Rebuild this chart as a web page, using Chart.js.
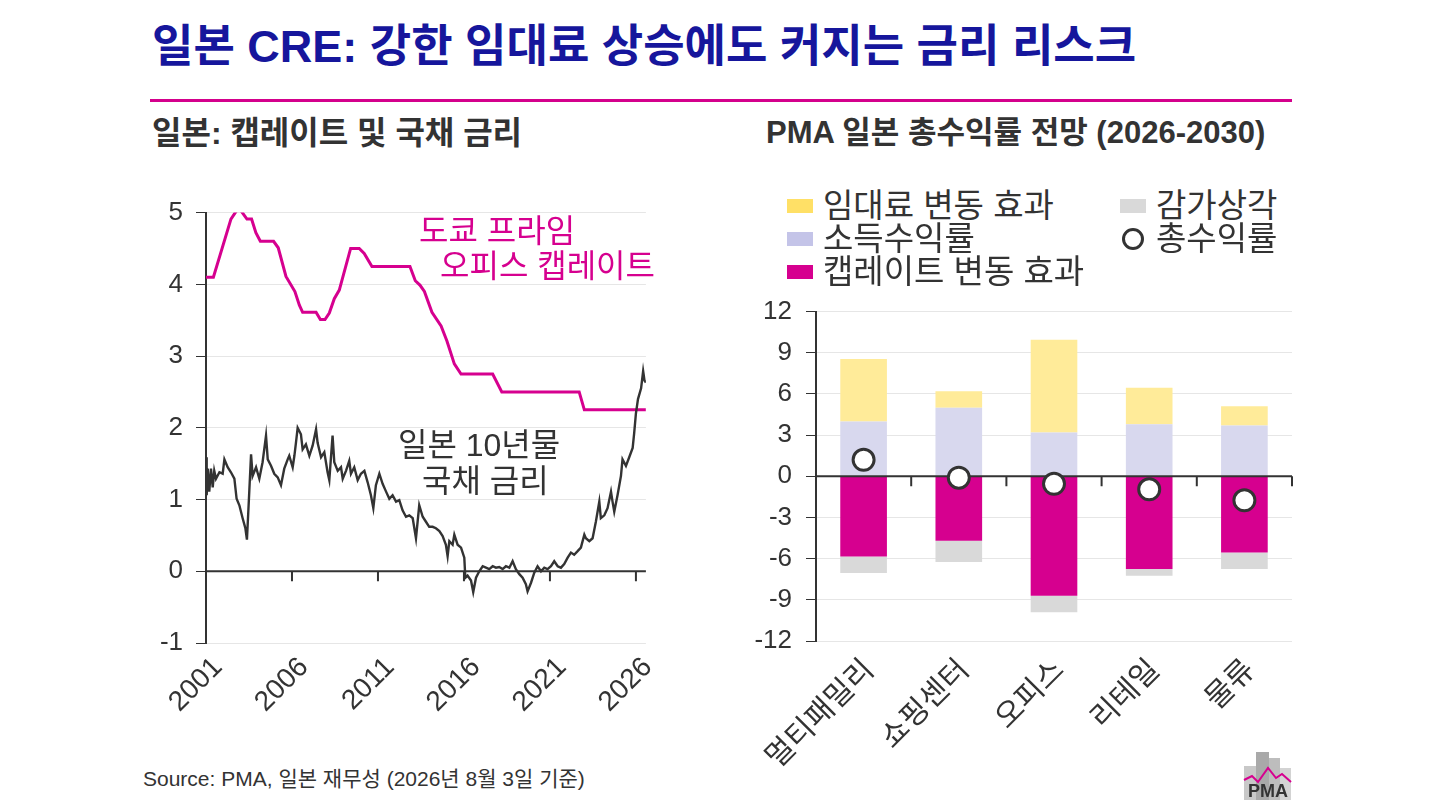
<!DOCTYPE html>
<html><head><meta charset="utf-8">
<script src="https://cdn.jsdelivr.net/npm/chart.js@4.4.1/dist/chart.umd.min.js"></script>
<style>
html,body{margin:0;padding:0;background:#fff;}
body{width:1440px;height:810px;position:relative;overflow:hidden;font-family:"Liberation Sans","Noto Sans CJK KR",sans-serif;color:#333;}
.abs{position:absolute;white-space:nowrap;line-height:1;}
#title{left:152px;top:24px;font-size:45px;font-weight:bold;color:#16169c;}
#rule{left:150px;top:99px;width:1142px;height:3px;background:#d4008c;}
#subL{left:152px;top:117px;font-size:32px;font-weight:bold;color:#333;}
#subR{left:766px;top:117px;font-size:31px;font-weight:bold;color:#333;}
canvas{position:absolute;}
#cL{left:140px;top:184px;}
#cR{left:730px;top:282px;}
.ann{font-size:32px;}
.mag{color:#d6008f;}
.leg{position:absolute;display:flex;align-items:center;font-size:33px;line-height:34px;height:34px;white-space:nowrap;color:#333;}
.sw{width:26px;height:14px;margin-right:10px;}
.circ{width:16px;height:16px;border:3px solid #333;border-radius:50%;margin-right:12px;margin-left:2px;background:#fff;}
#src{left:143px;top:768px;font-size:21px;color:#333;}
#logo{left:1242px;top:750px;width:50px;height:50px;}
</style></head>
<body>
<div id="title" class="abs">일본 CRE: 강한 임대료 상승에도 커지는 금리 리스크</div>
<div id="rule" class="abs"></div>
<div id="subL" class="abs">일본: 캡레이트 및 국채 금리</div>
<div id="subR" class="abs">PMA 일본 총수익률 전망 (2026-2030)</div>

<canvas id="cL" width="520" height="551"></canvas>
<canvas id="cR" width="580" height="518"></canvas>

<div class="abs ann mag" style="left:419px;top:215px;">도쿄 프라임</div>
<div class="abs ann mag" style="left:440px;top:250px;">오피스 캡레이트</div>
<div class="abs ann" style="left:398px;top:429px;">일본 10년물</div>
<div class="abs ann" style="left:422px;top:465px;">국채 금리</div>

<div class="leg" style="left:787px;top:189px;"><div class="sw" style="background:#FFE066"></div>임대료 변동 효과</div>
<div class="leg" style="left:787px;top:222px;"><div class="sw" style="background:#C4C4E8"></div>소득수익률</div>
<div class="leg" style="left:787px;top:255px;"><div class="sw" style="background:#D6008F"></div>캡레이트 변동 효과</div>
<div class="leg" style="left:1120px;top:189px;"><div class="sw" style="background:#D9D9D9"></div>감가상각</div>
<div class="leg" style="left:1120px;top:222px;"><div class="circ"></div>총수익률</div>

<div id="src" class="abs">Source: PMA, 일본 재무성 (2026년 8월 3일 기준)</div>
<svg id="logo" class="abs" viewBox="0 0 50 50">
  <rect x="2" y="16" width="12" height="34" fill="#c8c8c8"/>
  <rect x="14" y="2" width="13" height="48" fill="#a9a9a9"/>
  <rect x="27" y="8" width="11" height="42" fill="#bdbdbd"/>
  <rect x="38" y="18" width="11" height="32" fill="#d3d3d3"/>
  <polyline points="2,30 10,26 16,32 26,18 34,28 40,24 49,32" fill="none" stroke="#d6008f" stroke-width="2"/>
  <text x="26" y="47" text-anchor="middle" font-family="Liberation Sans" font-weight="bold" font-size="18" fill="#333">PMA</text>
</svg>

<script>
// ---------- Left chart data ----------
const yearTicks = [2001, 2006, 2011, 2016, 2021, 2026];
const leftYTicks = [-1, 0, 1, 2, 3, 4, 5];
// Tokyo prime office cap rate (%) : [year, value]
const capRateSeries = [
  [2001.00,4.10],[2001.43,4.10],[2002.45,4.91],[2002.90,5.07],[2003.38,4.91],[2003.65,4.91],
  [2003.90,4.72],[2004.16,4.60],[2004.93,4.60],[2005.20,4.51],[2005.65,4.11],[2006.17,3.90],
  [2006.43,3.71],[2006.62,3.61],[2007.40,3.61],[2007.65,3.51],[2007.92,3.51],[2008.17,3.60],
  [2008.46,3.80],[2008.75,3.92],[2009.41,4.50],[2009.91,4.50],[2010.20,4.43],[2010.65,4.25],
  [2012.86,4.25],[2013.17,4.05],[2013.44,3.99],[2013.70,3.90],[2014.14,3.61],[2014.67,3.42],
  [2015.01,3.21],[2015.44,2.89],[2015.83,2.75],[2017.67,2.75],[2018.20,2.50],[2022.70,2.50],
  [2023.00,2.25],[2026.58,2.25]
];
// Japan 10-year JGB yield (%) : [year, value]
const jgbSeries = [
  [2001.00,1.59],[2001.04,1.06],[2001.10,1.43],[2001.19,1.11],[2001.29,1.43],[2001.39,1.17],
  [2001.48,1.40],[2001.58,1.29],[2001.78,1.38],[2001.97,1.36],[2002.07,1.56],[2002.26,1.45],
  [2002.45,1.38],[2002.65,1.29],[2002.78,1.01],[2002.94,0.92],[2003.13,0.74],[2003.29,0.60],
  [2003.38,0.44],[2003.46,0.83],[2003.52,1.13],[2003.62,1.63],[2003.71,1.33],[2003.91,1.45],
  [2004.10,1.29],[2004.29,1.52],[2004.49,1.89],[2004.59,1.56],[2004.78,1.47],[2004.97,1.36],
  [2005.17,1.31],[2005.36,1.20],[2005.55,1.43],[2005.75,1.56],[2005.84,1.61],[2006.04,1.45],
  [2006.14,1.61],[2006.23,1.79],[2006.33,2.00],[2006.52,1.91],[2006.62,1.70],[2006.81,1.77],
  [2007.01,1.61],[2007.20,1.75],[2007.40,1.98],[2007.49,1.79],[2007.69,1.59],[2007.88,1.66],
  [2008.07,1.38],[2008.17,1.27],[2008.36,1.89],[2008.46,1.52],[2008.66,1.40],[2008.85,1.45],
  [2008.95,1.29],[2009.14,1.40],[2009.33,1.54],[2009.43,1.36],[2009.62,1.45],[2009.82,1.27],
  [2010.01,1.36],[2010.21,1.40],[2010.40,1.24],[2010.59,1.06],[2010.73,0.88],[2010.88,1.20],
  [2011.08,1.36],[2011.27,1.22],[2011.47,1.11],[2011.66,1.01],[2011.85,1.06],[2012.05,0.97],
  [2012.24,0.99],[2012.43,0.85],[2012.63,0.76],[2012.82,0.78],[2013.02,0.74],[2013.21,0.46],
  [2013.40,0.92],[2013.60,0.76],[2013.79,0.69],[2013.98,0.62],[2014.18,0.62],[2014.37,0.60],
  [2014.57,0.56],[2014.76,0.49],[2014.95,0.37],[2015.05,0.21],[2015.15,0.42],[2015.34,0.37],
  [2015.44,0.51],[2015.63,0.37],[2015.83,0.33],[2016.02,0.19],[2016.08,-0.09],[2016.21,-0.06],
  [2016.41,-0.13],[2016.54,-0.29],[2016.70,-0.09],[2016.89,0.00],[2017.09,0.07],[2017.28,0.05],
  [2017.47,0.03],[2017.67,0.07],[2017.86,0.05],[2018.05,0.06],[2018.25,0.03],[2018.44,0.07],
  [2018.64,0.05],[2018.83,0.14],[2019.02,0.03],[2019.22,-0.04],[2019.41,-0.09],[2019.60,-0.18],
  [2019.70,-0.28],[2019.90,-0.16],[2020.09,-0.02],[2020.28,0.07],[2020.48,0.00],[2020.67,0.05],
  [2020.86,0.03],[2021.06,0.07],[2021.25,0.14],[2021.45,0.07],[2021.64,0.05],[2021.83,0.10],
  [2022.03,0.19],[2022.22,0.26],[2022.41,0.23],[2022.61,0.28],[2022.80,0.33],[2023.00,0.51],
  [2023.09,0.46],[2023.29,0.42],[2023.48,0.46],[2023.67,0.69],[2023.87,0.97],[2023.96,0.74],
  [2024.16,0.78],[2024.35,0.88],[2024.55,1.11],[2024.64,0.97],[2024.74,0.83],[2024.93,1.06],
  [2025.13,1.33],[2025.22,1.56],[2025.42,1.47],[2025.61,1.59],[2025.81,1.72],[2025.90,1.93],
  [2026.00,2.20],[2026.12,2.40],[2026.30,2.55],[2026.42,2.79],[2026.50,2.66],[2026.58,2.63]
];

// ---------- Right chart data ----------
const sectors = ['멀티패밀리', '쇼핑센터', '오피스', '리테일', '물류'];
const incomeYield   = [4.00, 5.00, 3.20, 3.80, 3.70];
const rentalEffect  = [4.55, 1.20, 6.75, 2.65, 1.40];
const capRateEffect = [-5.85, -4.70, -8.70, -6.75, -5.55];
const depreciation  = [-1.20, -1.55, -1.20, -0.50, -1.20];
const totalReturn   = [1.20, -0.10, -0.55, -0.95, -1.75];
const rightYTicks = [-12, -9, -6, -3, 0, 3, 6, 9, 12];

// ---------- Drawing ----------
const FONT = '"Liberation Sans", "Noto Sans CJK KR", sans-serif';
Chart.defaults.font.family = FONT;
Chart.defaults.color = '#333';

function drawZeroAxis(chart, xs) {
  const {ctx, chartArea, scales} = chart;
  const y0 = scales.y.getPixelForValue(0);
  ctx.save();
  ctx.strokeStyle = '#333';
  ctx.lineWidth = 2;
  ctx.beginPath();
  ctx.moveTo(chartArea.left, y0);
  ctx.lineTo(chartArea.right, y0);
  xs.forEach(x => { ctx.moveTo(x, y0); ctx.lineTo(x, y0 + 10); });
  ctx.stroke();
  ctx.restore();
}

new Chart(document.getElementById('cL'), {
  type: 'line',
  data: {
    datasets: [
      { label: '도쿄 프라임 오피스 캡레이트', data: capRateSeries.map(p => ({x: p[0], y: p[1]})),
        borderColor: '#D6008F', borderWidth: 3, pointRadius: 0, tension: 0, order: 1 },
      { label: '일본 10년물 국채 금리', data: jgbSeries.map(p => ({x: p[0], y: p[1]})),
        borderColor: '#333333', borderWidth: 2.4, pointRadius: 0, tension: 0, order: 0 }
    ]
  },
  options: {
    responsive: false, animation: false,
    layout: { padding: { top: 16, right: 14, left: 0, bottom: 0 } },
    plugins: { legend: { display: false }, tooltip: { enabled: false } },
    scales: {
      x: {
        type: 'linear', min: 2001, max: 2026.58,
        grid: { display: false }, border: { display: false },
        afterBuildTicks: s => { s.ticks = yearTicks.map(v => ({value: v})); },
        afterFit: s => { s.height = 92; },
        ticks: { minRotation: 45, maxRotation: 45, autoSkip: false, font: { size: 28 }, padding: 0,
                 labelOffset: 12, callback: v => String(v) }
      },
      y: {
        min: -1, max: 5,
        afterBuildTicks: s => { s.ticks = leftYTicks.map(v => ({value: v})); },
        afterFit: s => { s.width = 66; },
        ticks: { font: { size: 26 }, padding: 13 },
        grid: { color: '#E6E6E6', tickColor: '#333', tickLength: 10, lineWidth: 1 },
        border: { color: '#333', width: 2 }
      }
    }
  },
  plugins: [{
    id: 'zeroL',
    beforeDatasetsDraw(c) {
      drawZeroAxis(c, yearTicks.slice(1).map(v => c.scales.x.getPixelForValue(v)));
    }
  }]
});

new Chart(document.getElementById('cR'), {
  type: 'bar',
  data: {
    labels: sectors,
    datasets: [
      { label: '소득수익률', data: incomeYield, backgroundColor: '#D8D8EE', stack: 's', order: 1 },
      { label: '임대료 변동 효과', data: rentalEffect, backgroundColor: '#FFEB99', stack: 's', order: 1 },
      { label: '캡레이트 변동 효과', data: capRateEffect, backgroundColor: '#D6008F', stack: 's', order: 1 },
      { label: '감가상각', data: depreciation, backgroundColor: '#D9D9D9', stack: 's', order: 1 },
      { type: 'line', label: '총수익률', data: totalReturn, showLine: false, stack: 't', order: 0,
        pointRadius: 10.5, pointBackgroundColor: '#fff', pointBorderColor: '#333', pointBorderWidth: 3 }
    ]
  },
  options: {
    responsive: false, animation: false,
    categoryPercentage: 1, barPercentage: 0.49,
    layout: { padding: { top: 21, right: 18, left: 0, bottom: 0 } },
    plugins: { legend: { display: false }, tooltip: { enabled: false } },
    scales: {
      x: {
        stacked: true,
        grid: { display: false }, border: { display: false },
        afterFit: s => { s.height = 159; },
        ticks: { minRotation: 45, maxRotation: 45, autoSkip: false, font: { size: 30 }, padding: 4,
                 labelOffset: 6 }
      },
      y: {
        stacked: true, min: -12, max: 12,
        afterBuildTicks: s => { s.ticks = rightYTicks.map(v => ({value: v})); },
        afterFit: s => { s.width = 86; },
        ticks: { font: { size: 26 }, padding: 14 },
        grid: { color: '#E6E6E6', tickColor: '#333', tickLength: 10, lineWidth: 1 },
        border: { color: '#333', width: 2 }
      }
    }
  },
  plugins: [{
    id: 'zeroR',
    beforeDatasetDraw(c, args) {
      if (c.data.datasets[args.index].type === 'line') {
        const xs = sectors.map((_, i) => c.scales.x.getPixelForValue(i + 0.5));
        drawZeroAxis(c, xs);
      }
    }
  }]
});
</script>
</body></html>
